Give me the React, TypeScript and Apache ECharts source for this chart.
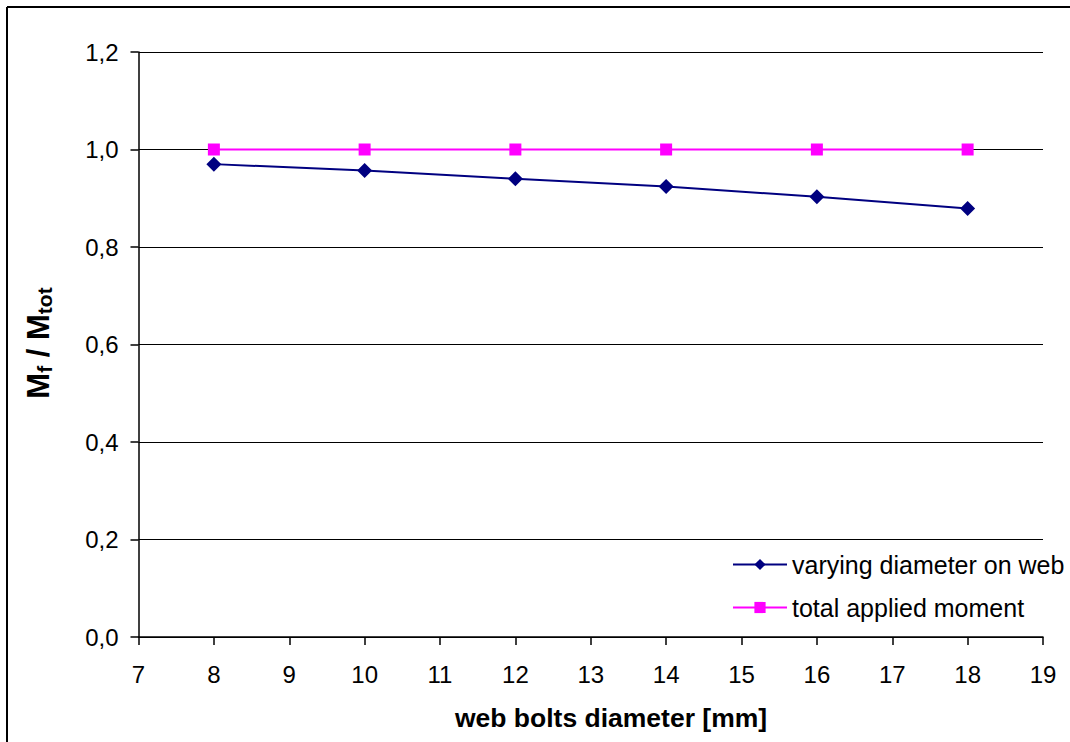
import React, { useEffect, useRef } from "react";
import * as echarts from "echarts";

const diameters = [8, 10, 12, 14, 16, 18];
const varyingDiameter = [0.97, 0.957, 0.94, 0.924, 0.903, 0.879];
const totalMoment = [1.0, 1.0, 1.0, 1.0, 1.0, 1.0];
const seriesNames = ["varying diameter on web", "total applied moment"];
const xTitle = "web bolts diameter [mm]";

const FONT = "'Liberation Sans', Arial, sans-serif";

export default function App() {
  const ref = useRef<HTMLDivElement>(null);
  useEffect(() => {
    if (!ref.current) return;
    const chart = echarts.init(ref.current, null, { renderer: "svg" });
    chart.setOption({
      animation: false,
      backgroundColor: "#ffffff",
      grid: { left: 138.5, right: 27, top: 52, bottom: 105, containLabel: false },
      xAxis: {
        type: "value",
        min: 7,
        max: 19,
        interval: 1,
        axisLine: { show: true, onZero: false, lineStyle: { color: "#000", width: 1.5 } },
        axisTick: { show: true, length: 8, lineStyle: { color: "#000", width: 1.5 } },
        axisLabel: { color: "#000", fontSize: 24, fontFamily: FONT, margin: 25 },
        splitLine: { show: false },
      },
      yAxis: {
        type: "value",
        min: 0,
        max: 1.2,
        interval: 0.2,
        axisLine: { show: true, lineStyle: { color: "#000", width: 1.5 } },
        axisTick: { show: true, length: 8, lineStyle: { color: "#000", width: 1.5 } },
        axisLabel: {
          color: "#000",
          fontSize: 24,
          fontFamily: FONT,
          margin: 20,
          formatter: (v: number) => v.toFixed(1).replace(".", ","),
        },
        splitLine: { show: true, lineStyle: { color: "#000", width: 1.2 } },
      },
      legend: {
        left: 727,
        top: 547,
        orient: "vertical",
        itemWidth: 54,
        itemHeight: 14,
        itemGap: 18,
        textStyle: { color: "#000", fontSize: 25, fontFamily: FONT },
        data: seriesNames,
      },
      series: [
        {
          name: seriesNames[0],
          type: "line",
          data: diameters.map((d, i) => [d, varyingDiameter[i]]),
          symbol: "diamond",
          symbolSize: 15,
          color: "#000080",
          lineStyle: { color: "#000080", width: 2 },
          itemStyle: { color: "#000080" },
        },
        {
          name: seriesNames[1],
          type: "line",
          data: diameters.map((d, i) => [d, totalMoment[i]]),
          symbol: "rect",
          symbolSize: 12,
          color: "#FF00FF",
          lineStyle: { color: "#FF00FF", width: 2 },
          itemStyle: { color: "#FF00FF" },
        },
      ],
      graphic: [
        {
          type: "line",
          shape: { x1: 7, y1: 7, x2: 1070, y2: 7 },
          style: { stroke: "#000", lineWidth: 2 },
        },
        {
          type: "line",
          shape: { x1: 7, y1: 7, x2: 7, y2: 742 },
          style: { stroke: "#000", lineWidth: 2 },
        },
        {
          type: "text",
          x: 611,
          y: 718,
          style: {
            text: xTitle,
            fontSize: 26.5,
            fontWeight: "bold",
            fontFamily: FONT,
            fill: "#000",
            align: "center",
            verticalAlign: "middle",
          },
        },
        {
          type: "text",
          x: 38,
          y: 343,
          rotation: Math.PI / 2,
          style: {
            text: "{b|M}{s|f}{b| / M}{s|tot}",
            align: "center",
            verticalAlign: "middle",
            fill: "#000",
            rich: {
              b: { fontSize: 31, fontWeight: "bold", fontFamily: FONT, fill: "#000", lineHeight: 34 },
              s: { fontSize: 21, fontWeight: "bold", fontFamily: FONT, fill: "#000", verticalAlign: "bottom", lineHeight: 24 },
            },
          },
        },
      ],
    });
    return () => chart.dispose();
  }, []);
  return (
    <div
      ref={ref}
      style={{ position: "absolute", left: 0, top: 0, width: 1070, height: 742, background: "#fff" }}
    />
  );
}
